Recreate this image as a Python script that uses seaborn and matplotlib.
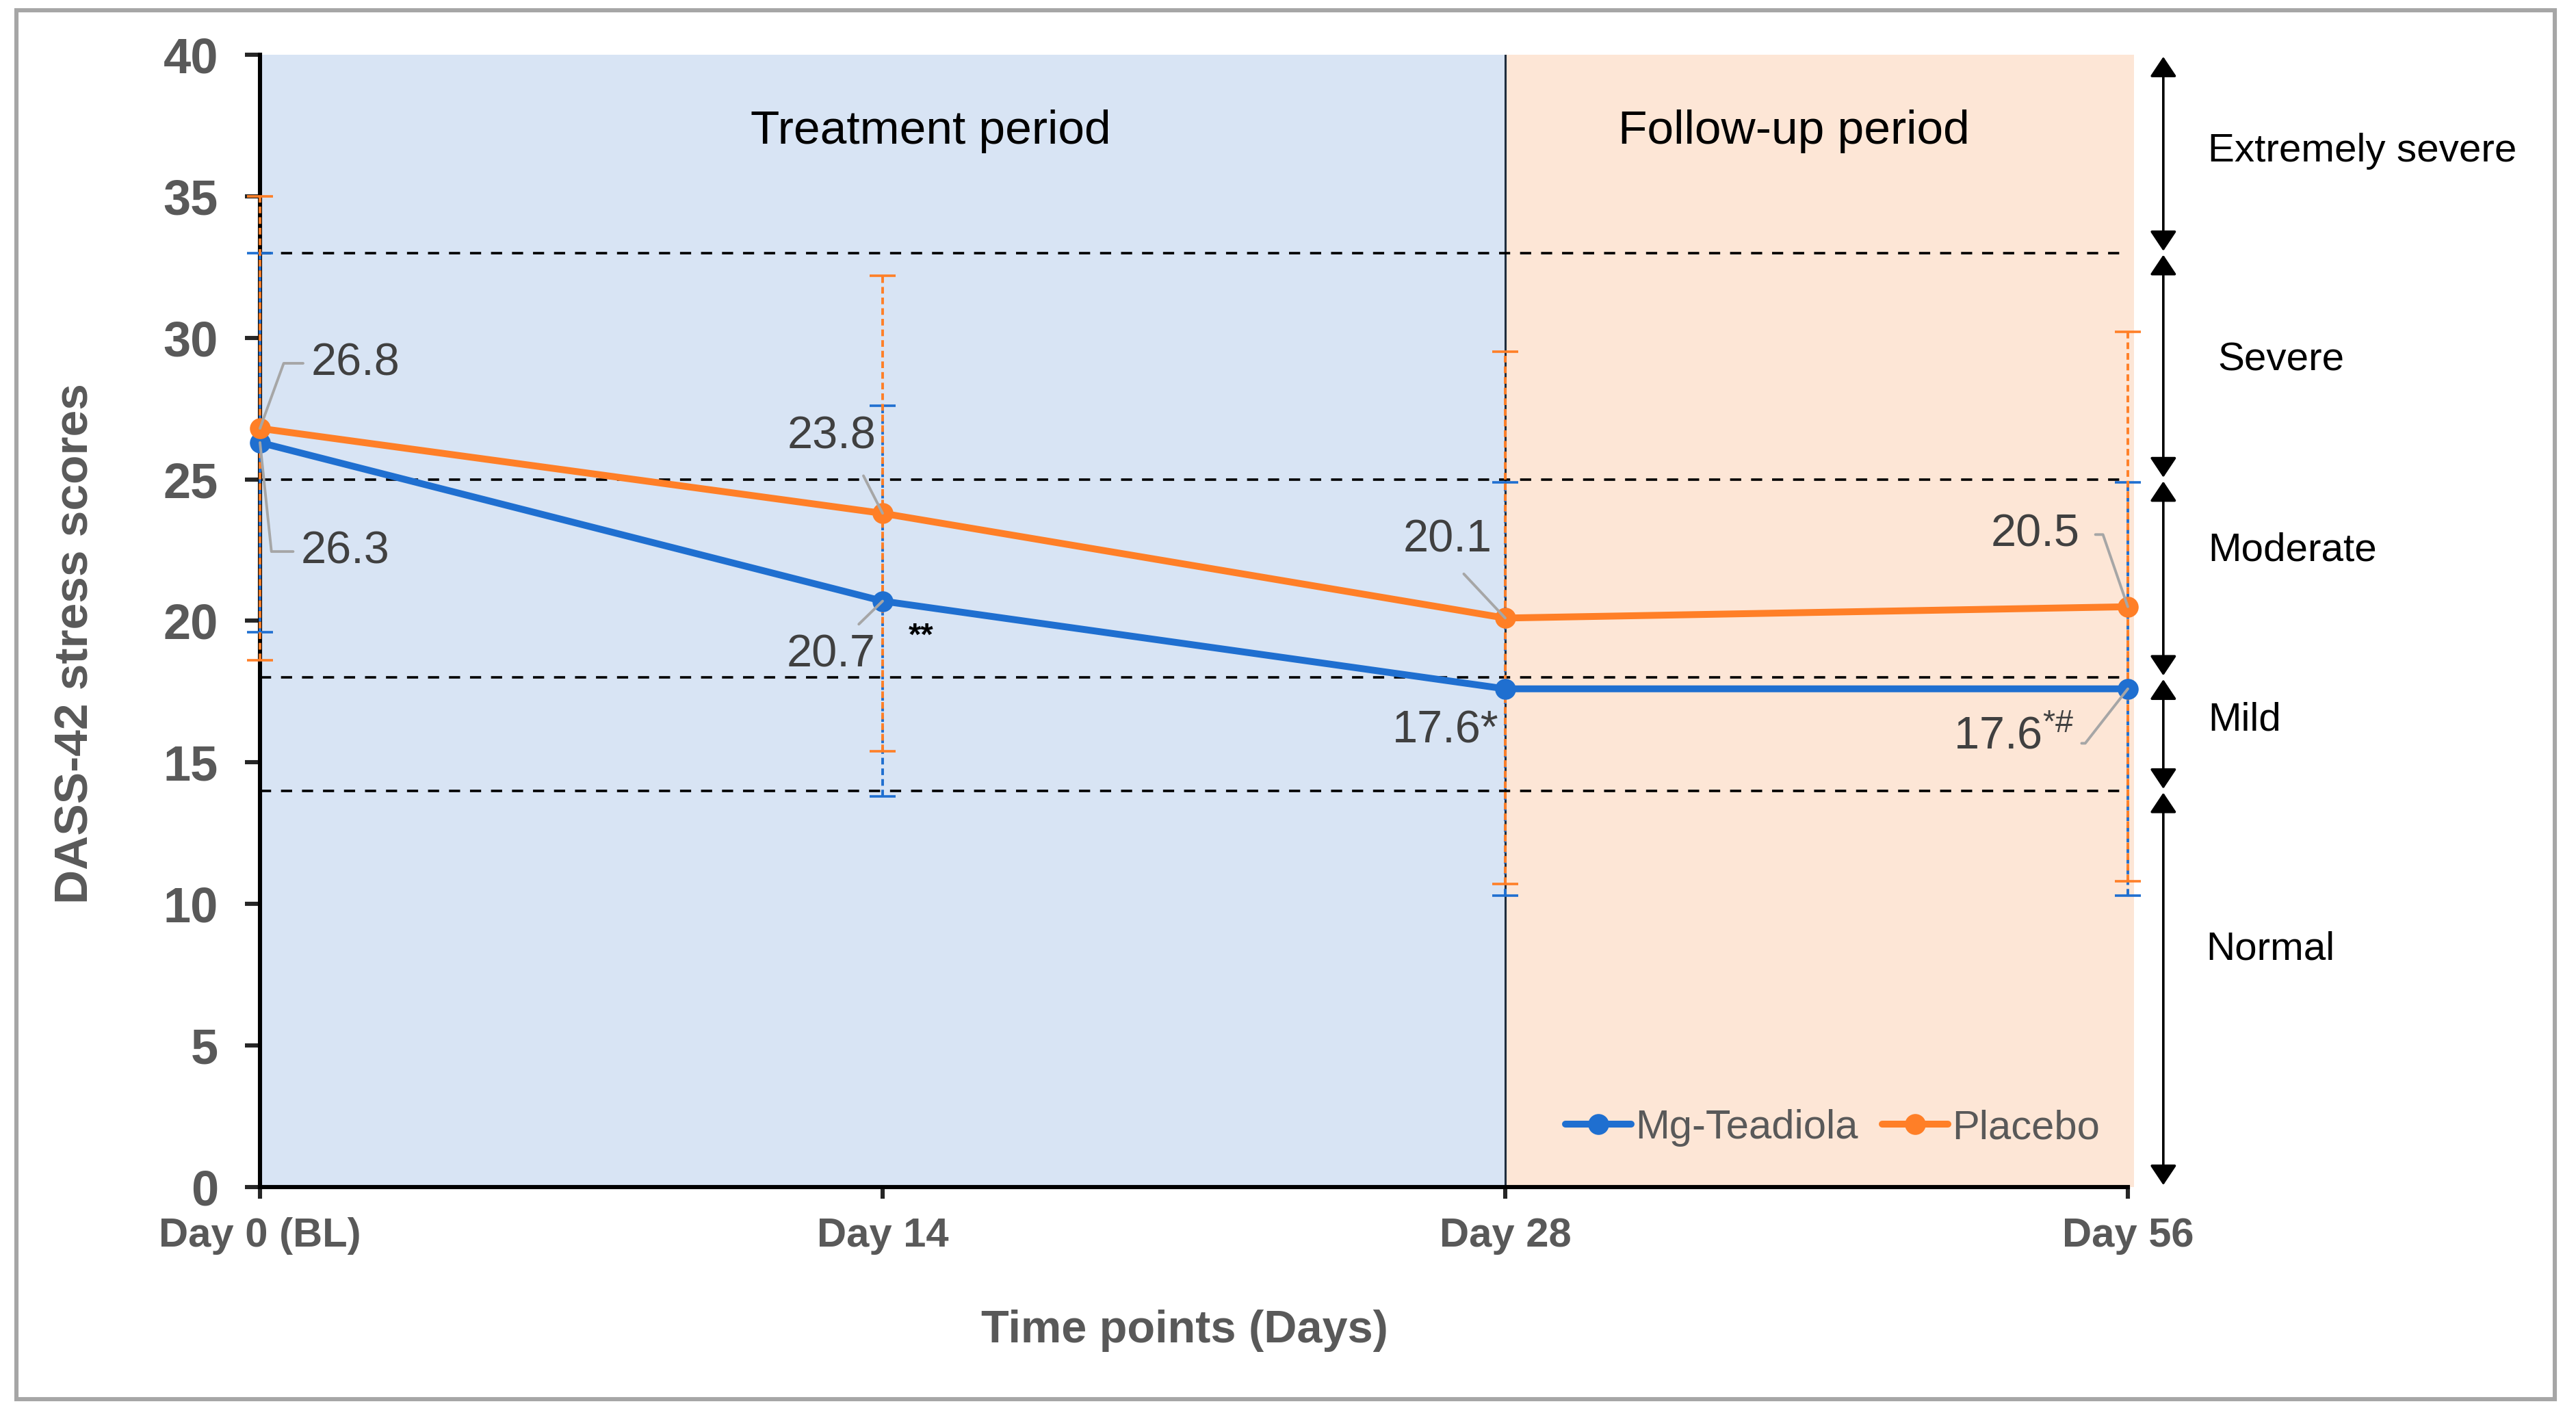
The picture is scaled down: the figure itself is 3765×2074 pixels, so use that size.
'''
DASS-42 stress scores over time
'''

import matplotlib
matplotlib.use("Agg")
import matplotlib.pyplot as plt
import matplotlib.transforms as mtransforms
from matplotlib.patches import Rectangle
import seaborn as sns
import pandas as pd

# Data
time_labels = ["Day 0 (BL)", "Day 14", "Day 28", "Day 56"]
groups = ["Mg-Teadiola", "Placebo"]
mg_mean = [26.3, 20.7, 17.6, 17.6]
mg_sd = [6.7, 6.9, 7.3, 7.3]
placebo_mean = [26.8, 23.8, 20.1, 20.5]
placebo_sd = [8.2, 8.4, 9.4, 9.7]
mg_text = ["26.3", "20.7", "17.6*", "17.6$^{*\\#}$"]
placebo_text = ["26.8", "23.8", "20.1", "20.5"]

# DASS-42 stress severity bands
cutoffs = [14, 18, 25, 33]
band_edges = [0, 14, 18, 25, 33, 40]
band_names = ["Normal", "Mild", "Moderate", "Severe", "Extremely severe"]

# Styling
blue = "#1f6fd0"
orange = "#ff7f27"
tick_grey = "#595959"
label_grey = "#404040"

sns.set_style("ticks")
plt.rcParams["font.family"] = ["Liberation Sans", "DejaVu Sans"]
plt.rcParams["mathtext.fontset"] = "custom"
plt.rcParams["mathtext.rm"] = "Liberation Sans"
plt.rcParams["mathtext.default"] = "regular"

fig = plt.figure(figsize=(18.83, 10.37), dpi=200)
ax = fig.add_axes([0.1009, 0.1635, 0.7249, 0.7979])

# Long-form table for seaborn
pos = list(range(len(time_labels)))
df = pd.DataFrame({
    "pos": pos * 2,
    "score": mg_mean + placebo_mean,
    "group": [groups[0]] * len(pos) + [groups[1]] * len(pos),
})

# Period shading
ax.axvspan(0, 2, color="#d8e4f4", zorder=0, lw=0)
ax.axvspan(2, 3.01, color="#fde6d6", zorder=0, lw=0, clip_on=False)
ax.axvline(2, color="#1f2d3d", lw=1.1, zorder=1)

# Severity cut-off lines
ax.hlines(cutoffs, 0, 3, colors="black", linestyles=(0, (4.5, 4)), lw=1.3, zorder=1)

# Error bars (SD)
for mean, sd, col in [(mg_mean, mg_sd, blue), (placebo_mean, placebo_sd, orange)]:
    eb = ax.errorbar(pos, mean, yerr=sd, fmt="none", ecolor=col, elinewidth=1.4,
                     capsize=7, capthick=1.3, zorder=3)
    eb[2][0].set_linestyle((0, (2.5, 1.5)))
    eb[2][0].set_clip_on(False)
    for cap in eb[1]:
        cap.set_clip_on(False)

# Mean lines
sns.lineplot(data=df, x="pos", y="score", hue="group", hue_order=groups,
             palette=[blue, orange], marker="o", markersize=11, markeredgewidth=0,
             linewidth=3.6, errorbar=None, legend=False, ax=ax, zorder=4)
series_lines = [l for l in ax.lines if l.get_marker() == "o"][:2]
for l in series_lines:
    l.set_clip_on(False)

ax.set_xlim(0, 3)
ax.set_ylim(0, 40)
ax.set_xticks(pos)
ax.set_xticklabels(time_labels)
ax.set_yticks(range(0, 41, 5))
sns.despine(ax=ax)
for side in ["left", "bottom"]:
    ax.spines[side].set_linewidth(2.2)
    ax.spines[side].set_color("black")
ax.tick_params(axis="y", length=8, width=2.2, pad=14, labelsize=26, labelcolor=tick_grey)
ax.tick_params(axis="x", length=6, width=2.2, pad=10, labelsize=21.5, labelcolor=tick_grey)
for t in ax.get_xticklabels() + ax.get_yticklabels():
    t.set_fontweight("bold")

ax.set_xlabel("Time points (Days)", fontsize=24, fontweight="bold", color=tick_grey)
ax.set_ylabel("DASS-42 stress scores", fontsize=25, fontweight="bold", color=tick_grey)
ax.xaxis.set_label_coords(0.495, -0.108)
ax.yaxis.set_label_coords(-0.087, 0.48)

# Period titles
ax.text(1.077, 37.3, "Treatment period", ha="center", va="center", fontsize=25, color="black")
ax.text(2.464, 37.3, "Follow-up period", ha="center", va="center", fontsize=25, color="black")


# Value labels with leader lines
def value_label(txt, xy, xytext, ha, conn=None, relpos=(0.5, 0.5), shrink=2):
    props = None
    if conn is not None:
        props = dict(arrowstyle="-", color="#a6a6a6", lw=1.4, connectionstyle=conn,
                     relpos=relpos, shrinkA=shrink, shrinkB=0)
    ax.annotate(txt, xy=xy, xytext=xytext, ha=ha, va="center", fontsize=24,
                color=label_grey, arrowprops=props, zorder=5)


value_label(placebo_text[0], (0, placebo_mean[0]), (0.082, 29.1), "left",
            "angle,angleA=0,angleB=70,rad=0", (0, 0.5))
value_label(mg_text[0], (0, mg_mean[0]), (0.066, 22.45), "left",
            "angle,angleA=0,angleB=-84,rad=0", (0, 0.5))
value_label(placebo_text[1], (1, placebo_mean[1]), (0.989, 26.5), "right",
            "arc3", (0.76, 0), 8)
value_label(mg_text[1], (1, mg_mean[1]), (0.989, 18.8), "right",
            "arc3", (0.7, 1), 4)
value_label(placebo_text[2], (2, placebo_mean[2]), (1.979, 22.85), "right",
            "arc3", (0.55, 0), 6)
value_label(mg_text[2], (2, mg_mean[2]), (1.99, 16.1), "right")
value_label(placebo_text[3], (3, placebo_mean[3]), (2.923, 23.05), "right",
            "angle,angleA=0,angleB=109,rad=0", (1, 0.5), 6)
value_label(mg_text[3], (3, mg_mean[3]), (2.913, 15.9), "right",
            "angle,angleA=0,angleB=52,rad=0", (1, 0.35), 2)
ax.text(1.042, 19.45, "**", ha="left", va="center", fontsize=17, fontweight="bold", color="black")

# Severity arrows on the right
trans = mtransforms.blended_transform_factory(ax.transAxes, ax.transData)
for lo, hi in zip(band_edges[:-1], band_edges[1:]):
    ax.annotate("", xy=(1.019, lo), xytext=(1.019, hi), xycoords=trans, textcoords=trans,
                annotation_clip=False,
                arrowprops=dict(arrowstyle="<|-|>,head_length=0.45,head_width=0.3",
                                color="black", lw=1.3, shrinkA=1, shrinkB=1, mutation_scale=20))
band_label_y = [8.4, 16.5, 22.5, 29.2, 36.6]
band_label_x = [1.042, 1.043, 1.043, 1.048, 1.043]
for name, bx, by in zip(band_names, band_label_x, band_label_y):
    ax.text(bx, by, name, transform=trans, ha="left", va="center", fontsize=21, color="black")

# Legend
leg = ax.legend(handles=series_lines, labels=groups, loc="center", bbox_to_anchor=(0.842, 0.052),
                ncol=2, frameon=False, fontsize=21.5, handlelength=1.6, handletextpad=0.1,
                columnspacing=0.6)
for t in leg.get_texts():
    t.set_color(tick_grey)

# Outer chart border
fig.patches.append(Rectangle((0.0064, 0.014), 0.985, 0.979, transform=fig.transFigure,
                             fill=False, edgecolor="#a6a6a6", lw=2.2))

fig.savefig("out.png", dpi=200)
